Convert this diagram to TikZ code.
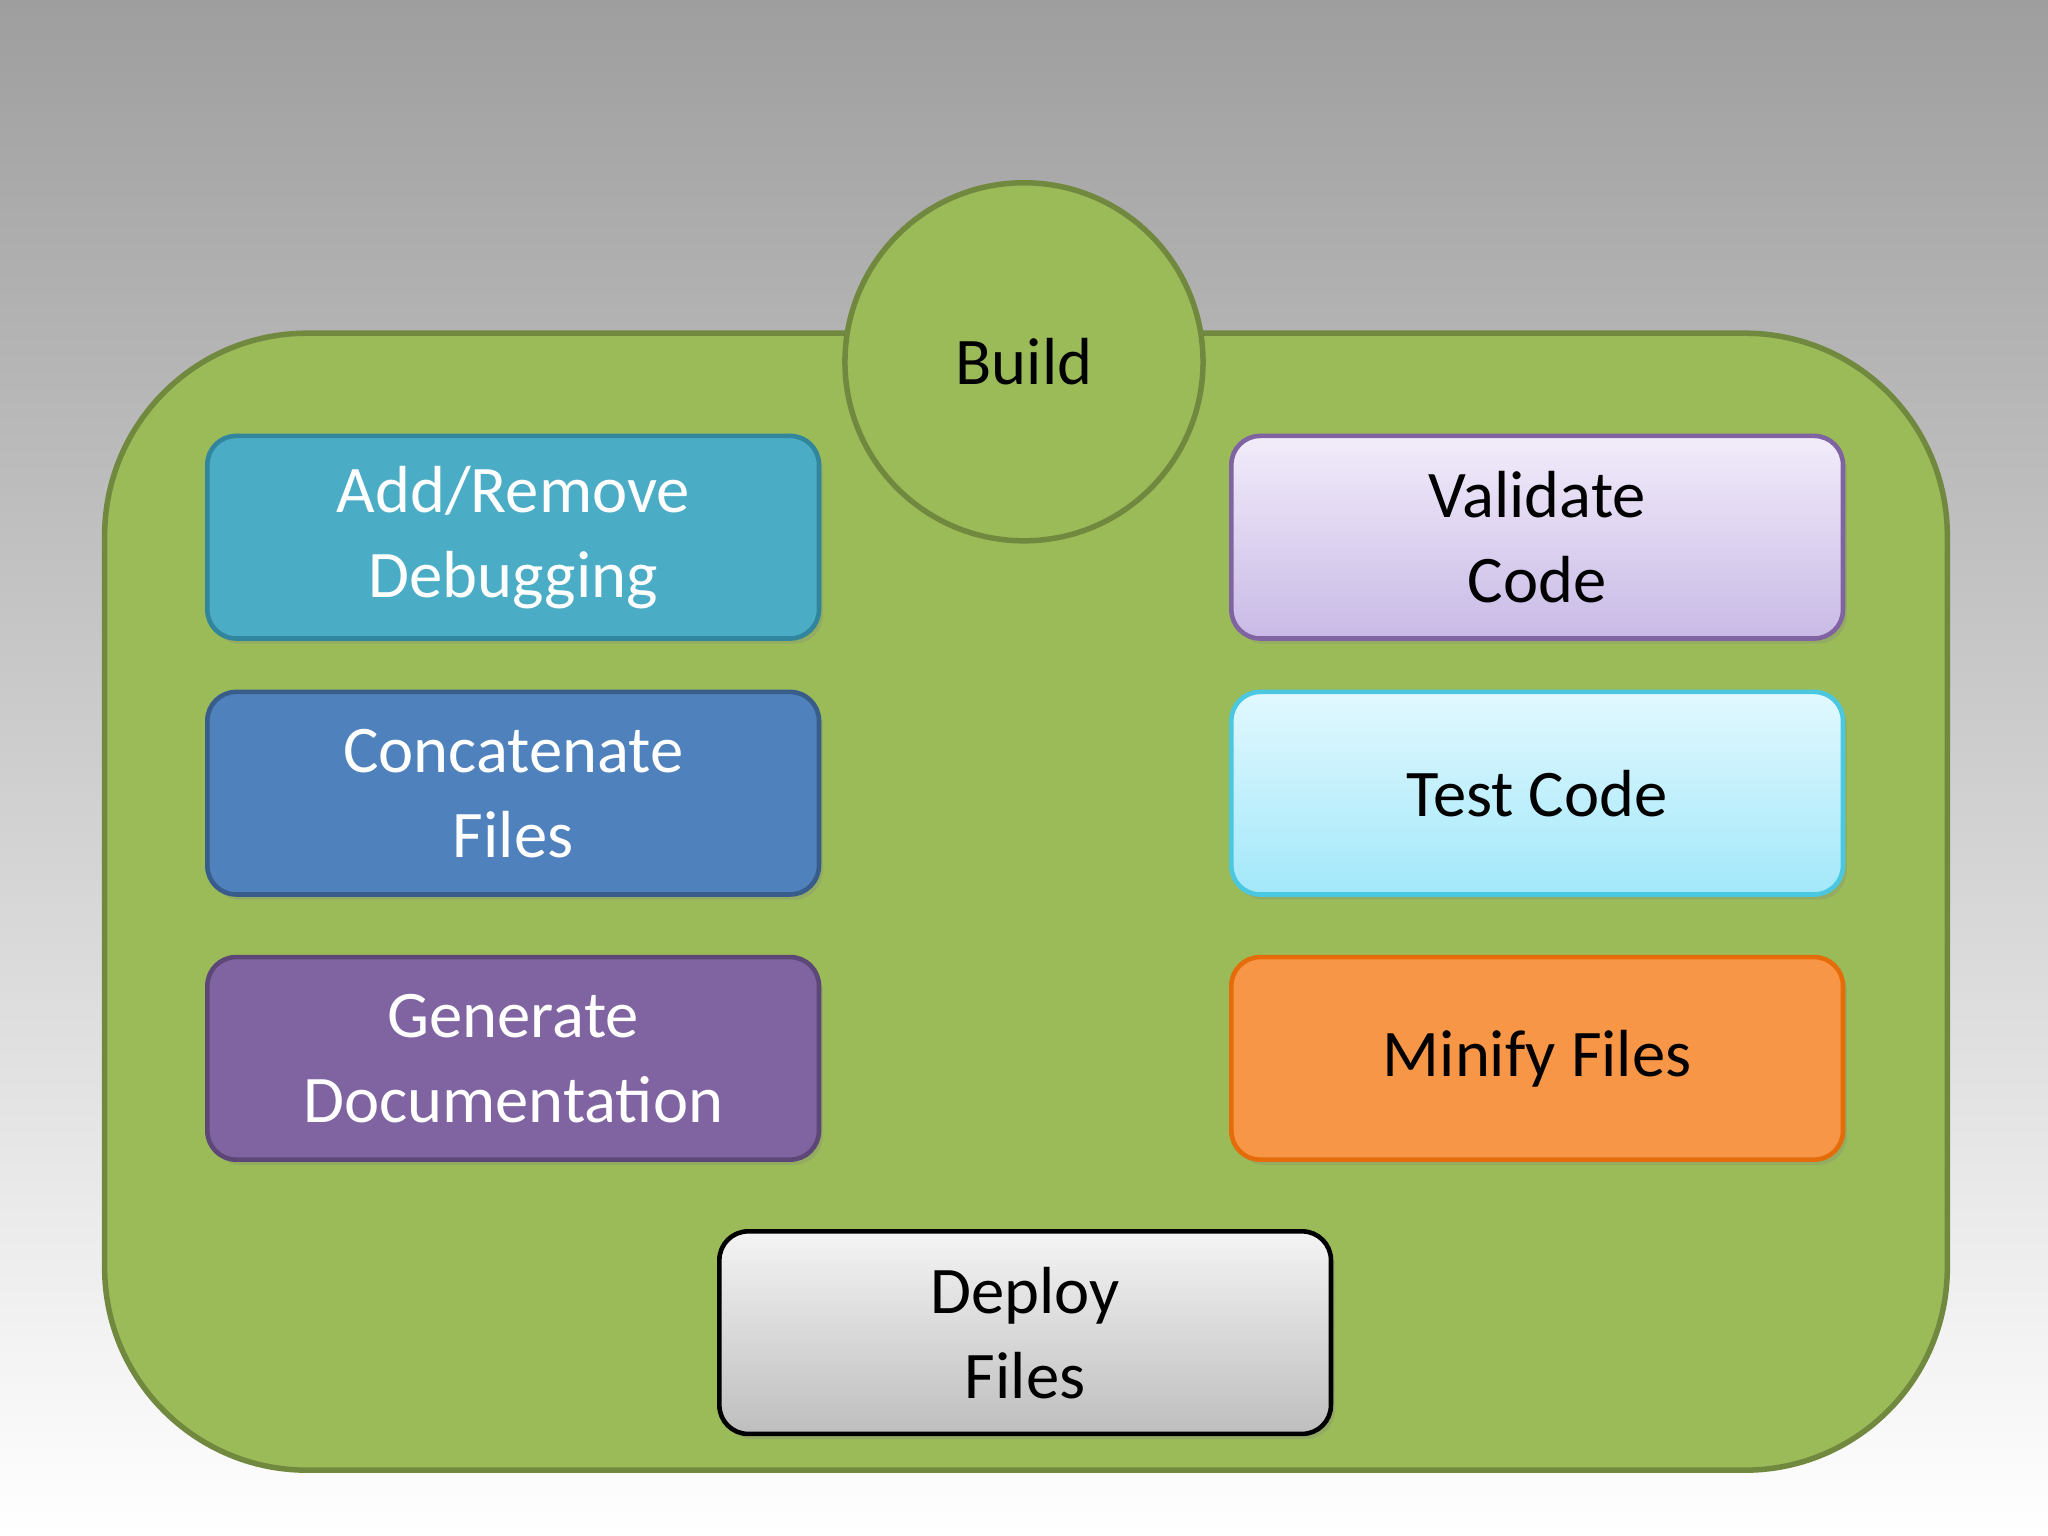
\documentclass[tikz,border=0pt]{standalone}
\usepackage{fontspec}
\setmainfont{Carlito}
\usetikzlibrary{shadows}
\definecolor{bgg}{HTML}{9BBB59}\definecolor{bgb}{HTML}{71893F}
\definecolor{c1f}{HTML}{4BACC6}\definecolor{c1b}{HTML}{31859C}
\definecolor{c2f}{HTML}{4F81BD}\definecolor{c2b}{HTML}{385D8A}
\definecolor{c3f}{HTML}{8064A2}\definecolor{c3b}{HTML}{5C4776}
\definecolor{v1}{HTML}{F2ECFA}\definecolor{v2}{HTML}{C9BAE6}\definecolor{vb}{HTML}{8064A2}
\definecolor{t1}{HTML}{E2F8FE}\definecolor{t2}{HTML}{A2E8FA}\definecolor{tb}{HTML}{4BC8E0}
\definecolor{mf}{HTML}{F79646}\definecolor{mb}{HTML}{E46C0A}
\definecolor{d1}{HTML}{F4F4F4}\definecolor{d2}{HTML}{BEBEBE}
\tikzset{
 box/.style={rounded corners=0.22cm,line width=1pt,minimum width=4.68cm,minimum height=1.55cm,align=center,font=\fontsize{14.5}{18.5}\selectfont,anchor=north west,drop shadow={opacity=0.25,shadow xshift=0.03cm,shadow yshift=-0.04cm}},
 wtext/.style={text=white},
}
\begin{document}
\begin{tikzpicture}[x=0.01cm,y=-0.01cm]
\shade[top color=black!38,bottom color=white] (0,0) rectangle (1568,1176);
\useasboundingbox (0,0) rectangle (1568,1176);
\node[draw=bgb,fill=bgg,line width=1.2pt,rounded corners=1.55cm,minimum width=14.1cm,minimum height=8.7cm,anchor=north west] (frame) at (78,253) {};
\node[circle,draw=bgb,fill=bgg,line width=1.2pt,minimum size=2.74cm,font=\fontsize{14.5}{18.5}\selectfont] (build) at (784,277) {Build};
\node[box,wtext,fill=c1f,draw=c1b] (a) at (157,332) {Add/Remove\\Debugging};
\node[box,wtext,fill=c2f,draw=c2b] (b) at (157,528) {Concatenate\\Files};
\node[box,wtext,fill=c3f,draw=c3b] (c) at (157,731) {Generate\\Documentation};
\node[box,top color=v1,bottom color=v2,draw=vb] (d) at (941,332) {Validate\\Code};
\node[box,top color=t1,bottom color=t2,draw=tb] (e) at (941,528) {Test Code};
\node[box,fill=mf,draw=mb] (f) at (941,731) {Minify Files};
\node[box,top color=d1,bottom color=d2,draw=black] (g) at (549,941) {Deploy\\Files};
\end{tikzpicture}
\end{document}
